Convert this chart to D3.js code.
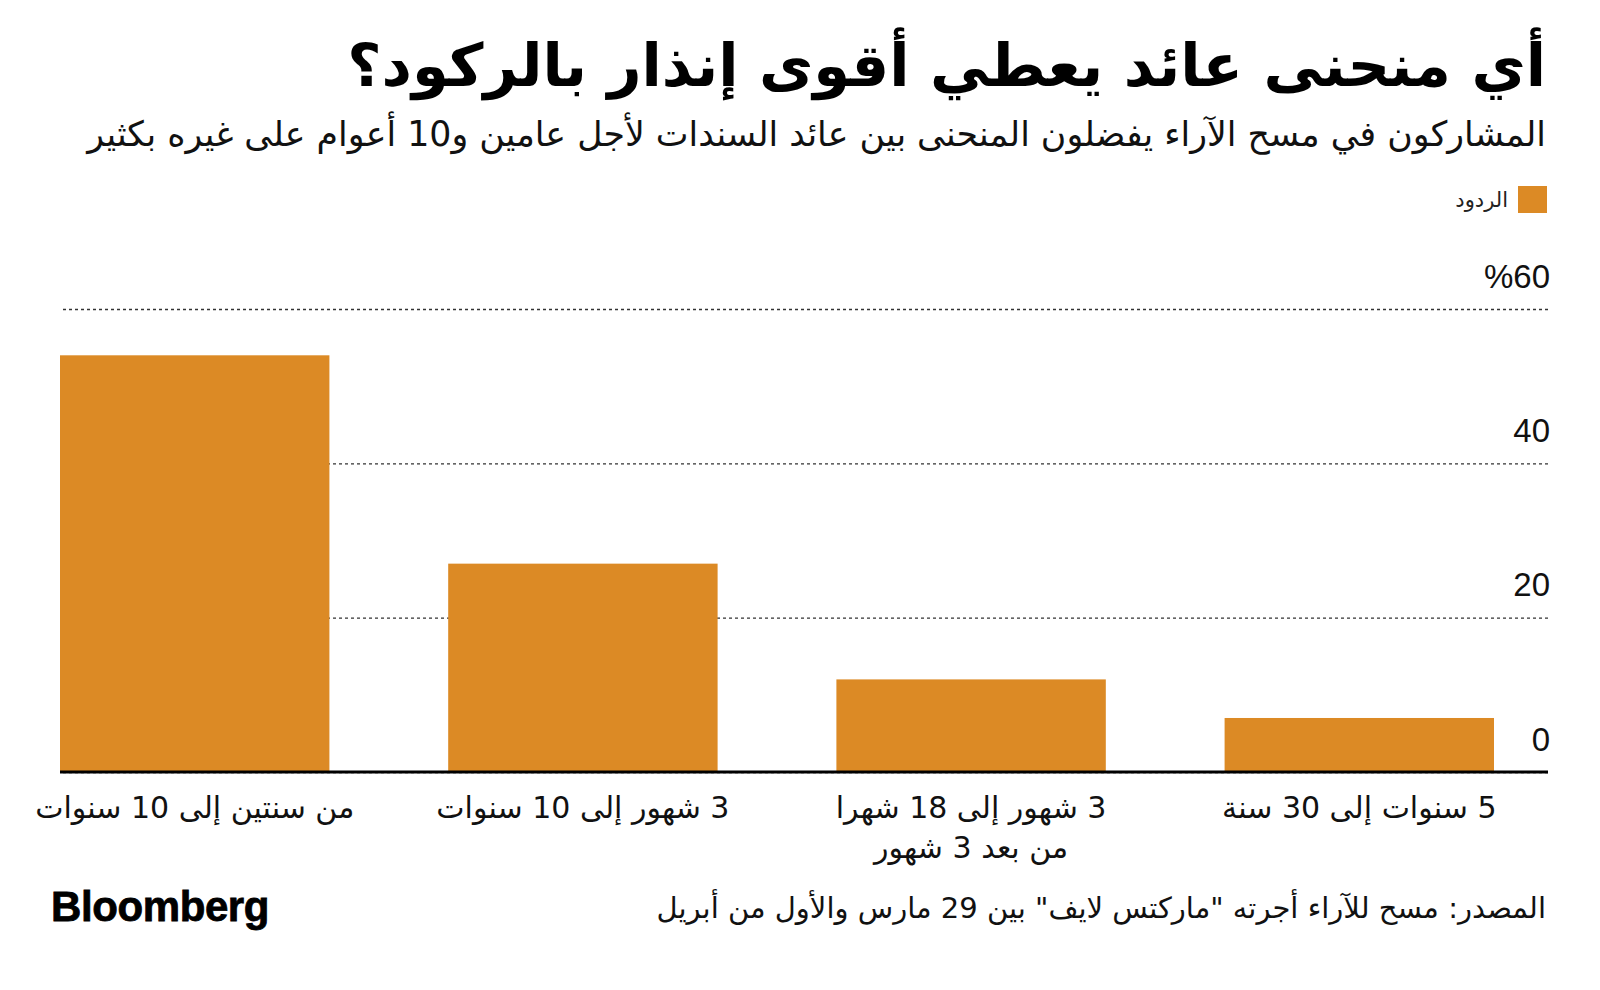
<!DOCTYPE html>
<html>
<head>
<meta charset="utf-8">
<title>منحنى العائد</title>
<style>
  html, body { margin: 0; padding: 0; background: #fff; }
  svg { display: block; }
  .ar { font-family: "DejaVu Sans", sans-serif; direction: rtl; }
</style>
</head>
<body>
<svg id="chart" width="1600" height="990"></svg>
<script src="https://cdn.jsdelivr.net/npm/d3@7"></script>
<script>
// chart values
var titleText = "أي منحنى عائد يعطي أقوى إنذار بالركود؟";
var subtitleText = "المشاركون في مسح الآراء يفضلون المنحنى بين عائد السندات لأجل عامين و10 أعوام على غيره بكثير";
var legendLabel = "الردود";
var sourceText = "المصدر: مسح للآراء أجرته \"ماركتس لايف\" بين 29 مارس والأول من أبريل";

var categories = [
  ["من سنتين إلى 10 سنوات"],
  ["3 شهور إلى 10 سنوات"],
  ["3 شهور إلى 18 شهرا", "من بعد 3 شهور"],
  ["5 سنوات إلى 30 سنة"]
];
var values = [54, 27, 12, 7];
var yTicks = [0, 20, 40, 60];
var yTickLabels = ["0", "20", "40", "%60"];

var barColor = "#dc8a25";

var svg = d3.select("#chart");
var plotLeft = 61, plotRight = 1548, plotTop = 309, plotBottom = 772;

var x = d3.scaleBand()
    .domain(d3.range(values.length))
    .range([60, 1494])
    .paddingInner(0.306)
    .paddingOuter(0);

var y = d3.scaleLinear()
    .domain([0, 60])
    .range([plotBottom, plotTop]);

// make a text fit a width by scaling its font size
function fitWidth(sel, w) {
  var len = sel.node().getComputedTextLength();
  var fs = parseFloat(sel.attr("font-size"));
  sel.attr("font-size", fs * w / len);
}

// title + subtitle
var title = svg.append("text")
    .attr("class", "ar")
    .attr("x", 1546).attr("y", 86)
    .attr("text-anchor", "start")
    .attr("font-size", 50)
    .attr("font-weight", "bold")
    .attr("fill", "#000")
    .text(titleText);
fitWidth(title, 1199);

var subtitle = svg.append("text")
    .attr("class", "ar")
    .attr("x", 1546).attr("y", 146)
    .attr("text-anchor", "start")
    .attr("font-size", 30)
    .attr("fill", "#111")
    .text(subtitleText);
fitWidth(subtitle, 1459);

// legend
svg.append("rect")
    .attr("x", 1518).attr("y", 186)
    .attr("width", 29).attr("height", 27)
    .attr("fill", barColor);
svg.append("text")
    .attr("class", "ar")
    .attr("x", 1508).attr("y", 207)
    .attr("text-anchor", "start")
    .attr("font-size", 21)
    .attr("fill", "#222")
    .text(legendLabel);

// y grid and labels
var yAxis = d3.axisLeft(y)
    .tickValues(yTicks)
    .tickSize(plotRight - plotLeft)
    .tickFormat(function(d, i) { return yTickLabels[i]; });

var gy = svg.append("g")
    .attr("transform", "translate(" + plotRight + ",0)")
    .call(yAxis);
gy.select(".domain").remove();
gy.selectAll(".tick line")
    .attr("stroke", "#333")
    .attr("stroke-width", 1.3)
    .attr("stroke-dasharray", "3,3");
gy.selectAll(".tick text")
    .attr("x", 2)
    .attr("dy", -22)
    .attr("text-anchor", "end")
    .attr("font-size", 33)
    .attr("font-family", "'Liberation Sans', Arial, sans-serif")
    .attr("fill", "#111");

// bars
svg.append("g")
  .selectAll("rect")
  .data(values)
  .join("rect")
    .attr("x", function(d, i) { return x(i); })
    .attr("y", function(d) { return y(d); })
    .attr("width", x.bandwidth())
    .attr("height", function(d) { return y(0) - y(d); })
    .attr("fill", barColor);

// zero line
svg.append("line")
    .attr("x1", plotLeft - 1).attr("x2", plotRight)
    .attr("y1", y(0)).attr("y2", y(0))
    .attr("stroke", "#000")
    .attr("stroke-width", 3);

// category labels
var cat = svg.append("g")
  .selectAll("text")
  .data(categories)
  .join("text")
    .attr("class", "ar")
    .attr("text-anchor", "middle")
    .attr("font-size", 30)
    .attr("fill", "#111")
    .attr("transform", function(d, i) { return "translate(" + (x(i) + x.bandwidth() / 2) + ",818)"; });
cat.selectAll("tspan")
  .data(function(d) { return d; })
  .join("tspan")
    .attr("x", 0)
    .attr("y", function(d, i) { return i * 40; })
    .text(function(d) { return d; });

// footer
svg.append("text")
    .attr("x", 51).attr("y", 921)
    .attr("font-family", "'Liberation Sans', Arial, sans-serif")
    .attr("font-weight", "bold")
    .attr("font-size", 42)
    .attr("letter-spacing", -0.4)
    .attr("stroke", "#000")
    .attr("stroke-width", 0.8)
    .attr("fill", "#000")
    .text("Bloomberg");

var source = svg.append("text")
    .attr("class", "ar")
    .attr("x", 1546).attr("y", 918)
    .attr("text-anchor", "start")
    .attr("font-size", 27)
    .attr("fill", "#111")
    .text(sourceText);
fitWidth(source, 890);
</script>
</body>
</html>
